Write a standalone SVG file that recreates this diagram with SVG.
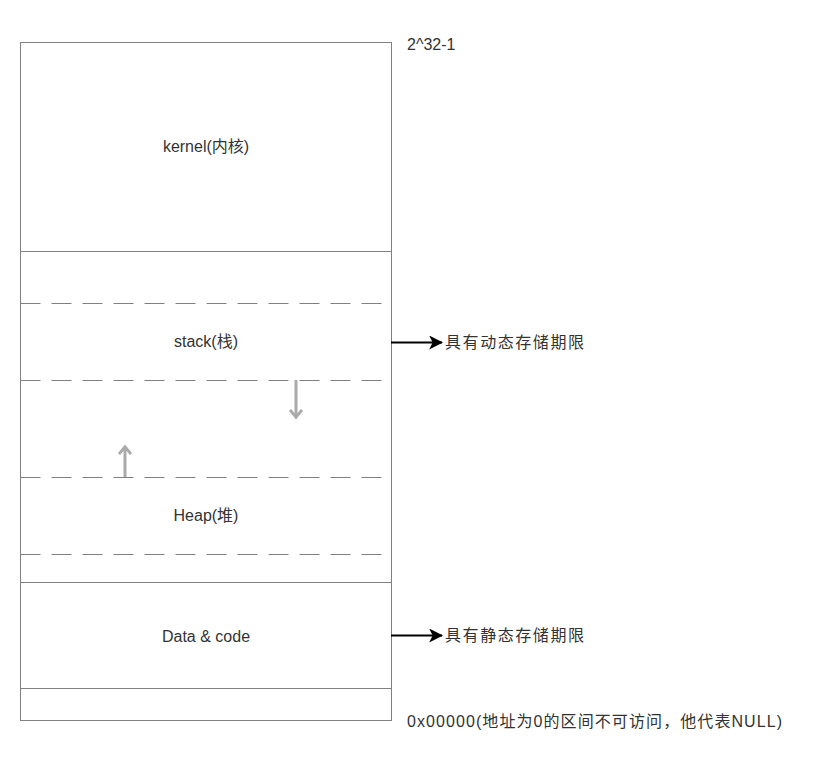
<svg xmlns="http://www.w3.org/2000/svg" width="821" height="758" viewBox="0 0 821 758">
<defs>
<style>
.box{fill:#ffffff;stroke:#808080;stroke-width:1}
.dash{fill:none;stroke:#808080;stroke-width:1;stroke-dasharray:20 11}
.t{font-family:"Liberation Sans","Noto Sans CJK SC",sans-serif;font-size:16px;fill:#333333}
.c{text-anchor:middle;dominant-baseline:central}
.grow{stroke:#aaaaaa;stroke-width:3;fill:none}
.blk{stroke:#000000;stroke-width:2;fill:none}
</style>
<marker id="chev" viewBox="0 0 10 12" refX="6" refY="6" markerWidth="4" markerHeight="4.8" orient="auto" markerUnits="strokeWidth">
<path d="M1,1 L7,6 L1,11" fill="none" stroke="#aaaaaa" stroke-width="2.4"/>
</marker>
<marker id="tri" viewBox="0 0 12 12" refX="11" refY="6" markerWidth="7" markerHeight="7" orient="auto" markerUnits="strokeWidth">
<path d="M0,0 L12,6 L0,12 L3,6 Z" fill="#000000"/>
</marker>
</defs>
<rect x="0" y="0" width="821" height="758" fill="#ffffff"/>
<g id="kernel">
<rect class="box" x="20.5" y="42.5" width="371" height="209"/>
<text class="t c" x="206" y="146">kernel(内核)</text>
</g>
<g id="upper-gap">
<rect class="box" x="20.5" y="251.5" width="371" height="331"/>
</g>
<g id="stack">
<path class="dash" d="M20.5,303.5 H391.5"/>
<path class="dash" d="M20.5,380.5 H391.5"/>
<text class="t c" x="206" y="341">stack(栈)</text>
</g>
<g id="heap">
<path class="dash" d="M20.5,477.5 H391.5"/>
<path class="dash" d="M20.5,554.5 H391.5"/>
<text class="t c" x="206" y="515">Heap(堆)</text>
</g>
<g id="data">
<rect class="box" x="20.5" y="582.5" width="371" height="106"/>
<text class="t c" x="206" y="636">Data &amp; code</text>
</g>
<g id="null">
<rect class="box" x="20.5" y="688.5" width="371" height="32"/>
</g>
<g id="labels">
<text class="t" x="407" y="50">2^32-1</text>
<text class="t" x="407" y="727" textLength="375" lengthAdjust="spacing">0x00000(地址为0的区间不可访问，他代表NULL)</text>
<text class="t" x="445" y="348" textLength="139" lengthAdjust="spacing">具有动态存储期限</text>
<text class="t" x="445" y="641" textLength="139" lengthAdjust="spacing">具有静态存储期限</text>
</g>
<g id="connectors">
<path class="grow" d="M296,380 V416" marker-end="url(#chev)"/>
<path class="grow" d="M125,477 V448" marker-end="url(#chev)"/>
<path class="blk" d="M391,342.5 H442" marker-end="url(#tri)"/>
<path class="blk" d="M391,635.5 H442" marker-end="url(#tri)"/>
</g>
</svg>
